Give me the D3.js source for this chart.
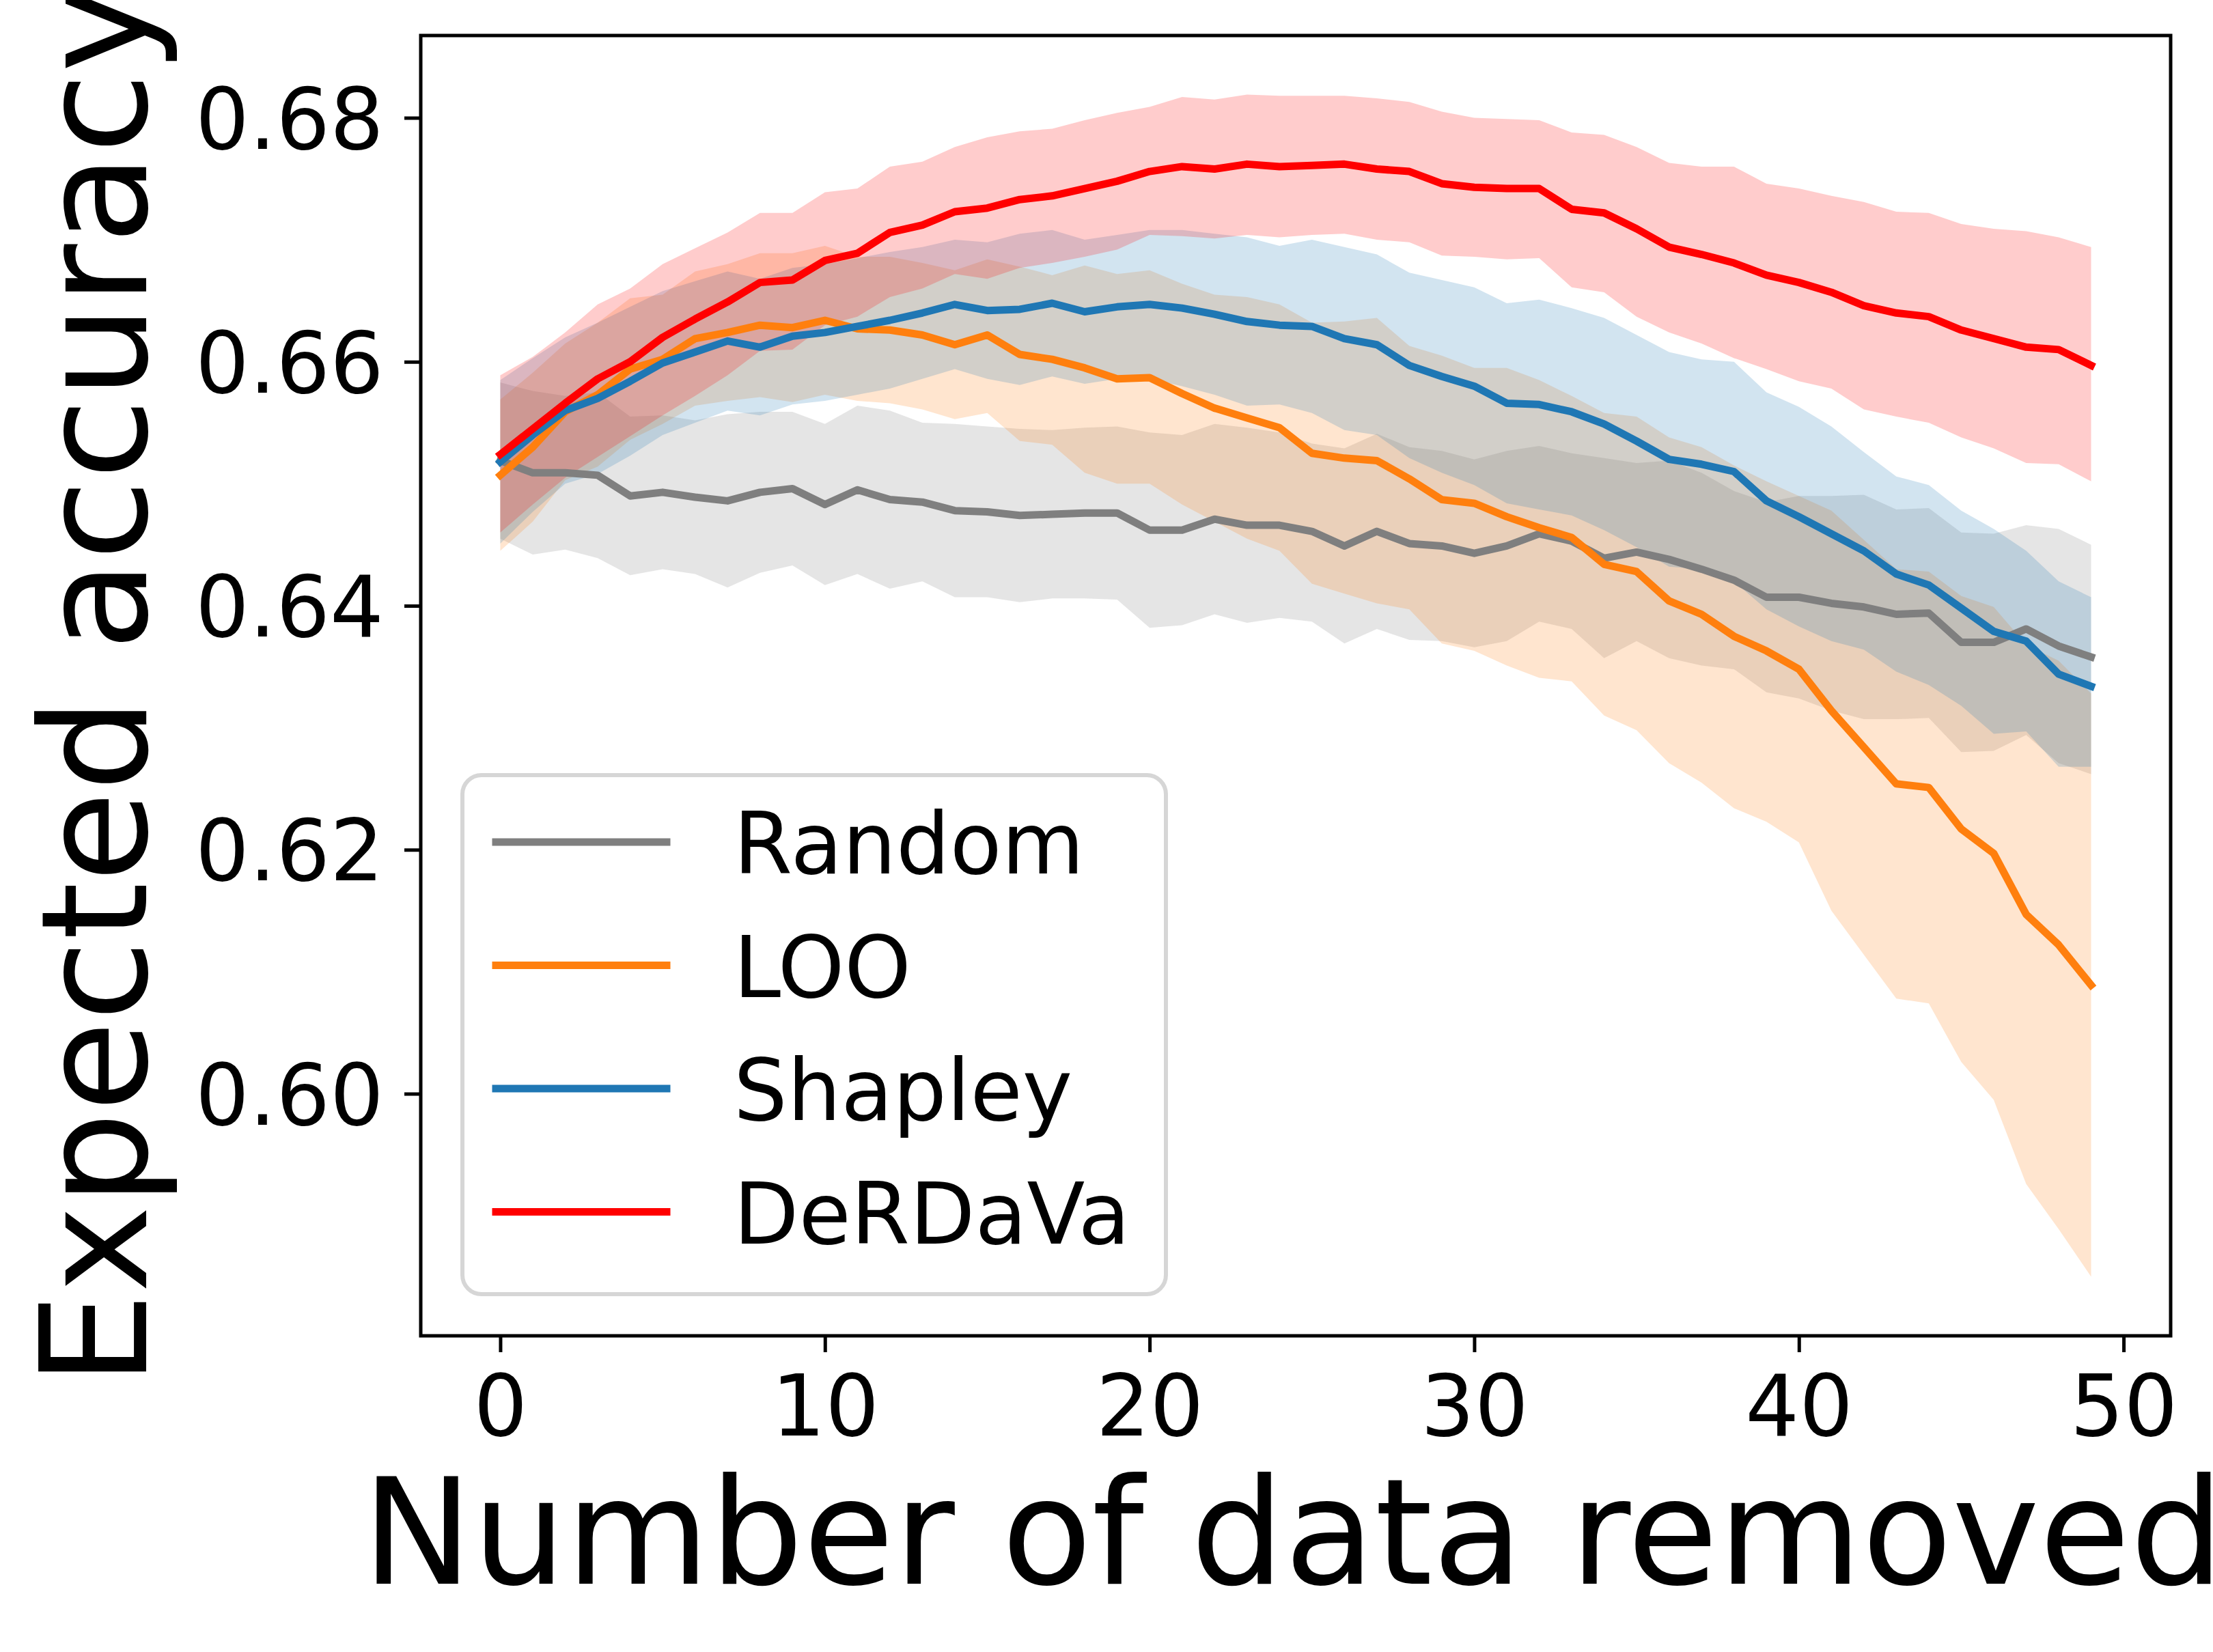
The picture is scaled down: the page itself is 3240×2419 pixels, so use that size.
<!DOCTYPE html>
<html>
<head>
<meta charset="utf-8">
<script src="https://cdn.jsdelivr.net/npm/d3@7.9.0/dist/d3.min.js"></script>
<style>
  html, body { margin: 0; padding: 0; background: #fff; }
  svg { display: block; font-family: 'DejaVu Sans', sans-serif; }
</style>
</head>
<body>
<svg id="chart"></svg>
<script>
// values, one entry per number of removed points (0..49)
const randomMean = [0.6519, 0.6509, 0.6509, 0.6507, 0.6490, 0.6493, 0.6489, 0.6486, 0.6493, 0.6496, 0.6483, 0.6495, 0.6487, 0.6485, 0.6478, 0.6477, 0.6474, 0.6475, 0.6476, 0.6476, 0.6462, 0.6462, 0.6471, 0.6466, 0.6466, 0.6461, 0.6449, 0.6461, 0.6451, 0.6449, 0.6443, 0.6449, 0.6459, 0.6453, 0.6439, 0.6444, 0.6438, 0.6430, 0.6421, 0.6407, 0.6407, 0.6402, 0.6399, 0.6393, 0.6394, 0.6370, 0.6370, 0.6381, 0.6367, 0.6358];
const randomUpper = [0.6583, 0.6576, 0.6572, 0.6575, 0.6555, 0.6556, 0.6552, 0.6557, 0.6559, 0.6559, 0.6549, 0.6564, 0.6560, 0.6550, 0.6549, 0.6547, 0.6545, 0.6544, 0.6546, 0.6547, 0.6542, 0.6540, 0.6549, 0.6546, 0.6542, 0.6533, 0.6529, 0.6541, 0.6530, 0.6527, 0.6520, 0.6527, 0.6531, 0.6525, 0.6521, 0.6517, 0.6519, 0.6509, 0.6494, 0.6485, 0.6490, 0.6490, 0.6491, 0.6479, 0.6480, 0.6460, 0.6459, 0.6466, 0.6463, 0.6450];
const randomLower = [0.6455, 0.6442, 0.6446, 0.6439, 0.6425, 0.6430, 0.6426, 0.6415, 0.6427, 0.6433, 0.6417, 0.6426, 0.6414, 0.6420, 0.6407, 0.6407, 0.6403, 0.6406, 0.6406, 0.6405, 0.6382, 0.6384, 0.6393, 0.6386, 0.6390, 0.6387, 0.6369, 0.6381, 0.6372, 0.6371, 0.6366, 0.6371, 0.6387, 0.6381, 0.6357, 0.6371, 0.6357, 0.6351, 0.6348, 0.6329, 0.6324, 0.6314, 0.6307, 0.6307, 0.6308, 0.6280, 0.6281, 0.6294, 0.6271, 0.6262];

const looMean = [0.6507, 0.6530, 0.6559, 0.6573, 0.6594, 0.6602, 0.6619, 0.6624, 0.6630, 0.6628, 0.6634, 0.6627, 0.6626, 0.6622, 0.6614, 0.6622, 0.6606, 0.6602, 0.6595, 0.6586, 0.6587, 0.6574, 0.6562, 0.6554, 0.6546, 0.6525, 0.6521, 0.6519, 0.6504, 0.6487, 0.6484, 0.6473, 0.6464, 0.6456, 0.6434, 0.6428, 0.6404, 0.6393, 0.6375, 0.6363, 0.6348, 0.6314, 0.6284, 0.6254, 0.6251, 0.6217, 0.6197, 0.6147, 0.6122, 0.6089];
const looUpper = [0.6569, 0.6591, 0.6615, 0.6632, 0.6652, 0.6655, 0.6674, 0.6680, 0.6689, 0.6689, 0.6695, 0.6686, 0.6686, 0.6681, 0.6675, 0.6684, 0.6678, 0.6671, 0.6679, 0.6672, 0.6675, 0.6664, 0.6655, 0.6653, 0.6647, 0.6632, 0.6633, 0.6636, 0.6613, 0.6605, 0.6595, 0.6595, 0.6585, 0.6572, 0.6558, 0.6555, 0.6538, 0.6530, 0.6515, 0.6502, 0.6490, 0.6478, 0.6454, 0.6430, 0.6428, 0.6408, 0.6399, 0.6368, 0.6355, 0.6328];
const looLower = [0.6445, 0.6469, 0.6503, 0.6514, 0.6536, 0.6549, 0.6564, 0.6568, 0.6571, 0.6567, 0.6573, 0.6568, 0.6566, 0.6561, 0.6553, 0.6558, 0.6535, 0.6532, 0.6509, 0.6500, 0.6500, 0.6483, 0.6469, 0.6455, 0.6445, 0.6418, 0.6410, 0.6402, 0.6397, 0.6369, 0.6363, 0.6351, 0.6341, 0.6338, 0.6310, 0.6298, 0.6271, 0.6255, 0.6234, 0.6223, 0.6206, 0.6150, 0.6114, 0.6078, 0.6074, 0.6026, 0.5995, 0.5926, 0.5889, 0.5850];

const shapleyMean = [0.6518, 0.6540, 0.6560, 0.6570, 0.6584, 0.6599, 0.6608, 0.6617, 0.6612, 0.6621, 0.6624, 0.6629, 0.6634, 0.6640, 0.6647, 0.6642, 0.6643, 0.6648, 0.6641, 0.6645, 0.6647, 0.6644, 0.6639, 0.6633, 0.6630, 0.6629, 0.6619, 0.6614, 0.6597, 0.6588, 0.6580, 0.6566, 0.6565, 0.6559, 0.6549, 0.6535, 0.6520, 0.6516, 0.6510, 0.6486, 0.6473, 0.6459, 0.6445, 0.6426, 0.6417, 0.6398, 0.6379, 0.6371, 0.6344, 0.6334];
const shapleyUpper = [0.6585, 0.6603, 0.6620, 0.6632, 0.6645, 0.6658, 0.6666, 0.6674, 0.6668, 0.6677, 0.6680, 0.6685, 0.6690, 0.6694, 0.6700, 0.6698, 0.6705, 0.6708, 0.6700, 0.6704, 0.6708, 0.6708, 0.6705, 0.6702, 0.6695, 0.6700, 0.6694, 0.6688, 0.6673, 0.6667, 0.6661, 0.6648, 0.6651, 0.6644, 0.6636, 0.6622, 0.6608, 0.6602, 0.6600, 0.6575, 0.6563, 0.6547, 0.6526, 0.6506, 0.6499, 0.6478, 0.6463, 0.6445, 0.6420, 0.6407];
const shapleyLower = [0.6451, 0.6477, 0.6500, 0.6508, 0.6523, 0.6540, 0.6550, 0.6560, 0.6556, 0.6565, 0.6568, 0.6573, 0.6578, 0.6586, 0.6594, 0.6586, 0.6581, 0.6588, 0.6582, 0.6586, 0.6586, 0.6580, 0.6573, 0.6564, 0.6565, 0.6558, 0.6544, 0.6540, 0.6521, 0.6509, 0.6499, 0.6484, 0.6479, 0.6474, 0.6462, 0.6448, 0.6432, 0.6430, 0.6420, 0.6397, 0.6383, 0.6371, 0.6364, 0.6346, 0.6335, 0.6318, 0.6295, 0.6297, 0.6268, 0.6268];

const derdavaMean = [0.6524, 0.6545, 0.6566, 0.6586, 0.6600, 0.6620, 0.6635, 0.6649, 0.6665, 0.6667, 0.6683, 0.6689, 0.6706, 0.6712, 0.6723, 0.6726, 0.6733, 0.6736, 0.6742, 0.6748, 0.6756, 0.6760, 0.6758, 0.6762, 0.6760, 0.6761, 0.6762, 0.6758, 0.6756, 0.6746, 0.6743, 0.6742, 0.6742, 0.6725, 0.6722, 0.6709, 0.6694, 0.6688, 0.6681, 0.6671, 0.6665, 0.6657, 0.6646, 0.6640, 0.6637, 0.6626, 0.6619, 0.6612, 0.6610, 0.6597];
const derdavaUpper = [0.6589, 0.6604, 0.6624, 0.6647, 0.6660, 0.6680, 0.6693, 0.6706, 0.6722, 0.6722, 0.6739, 0.6742, 0.6760, 0.6764, 0.6776, 0.6784, 0.6789, 0.6791, 0.6798, 0.6804, 0.6809, 0.6817, 0.6815, 0.6819, 0.6818, 0.6818, 0.6818, 0.6816, 0.6813, 0.6805, 0.6800, 0.6799, 0.6798, 0.6788, 0.6786, 0.6776, 0.6763, 0.6760, 0.6760, 0.6746, 0.6742, 0.6736, 0.6731, 0.6723, 0.6722, 0.6713, 0.6709, 0.6707, 0.6702, 0.6694];
const derdavaLower = [0.6460, 0.6483, 0.6505, 0.6522, 0.6539, 0.6556, 0.6572, 0.6589, 0.6609, 0.6610, 0.6630, 0.6637, 0.6653, 0.6660, 0.6672, 0.6668, 0.6677, 0.6681, 0.6686, 0.6692, 0.6704, 0.6703, 0.6701, 0.6704, 0.6702, 0.6704, 0.6705, 0.6700, 0.6698, 0.6687, 0.6686, 0.6684, 0.6685, 0.6661, 0.6657, 0.6637, 0.6624, 0.6615, 0.6603, 0.6594, 0.6584, 0.6578, 0.6561, 0.6555, 0.6550, 0.6538, 0.6529, 0.6517, 0.6516, 0.6502];

const methods = ['Random', 'LOO', 'Shapley', 'DeRDaVa'];
const colors = ['#7f7f7f', '#ff7f0e', '#1f77b4', '#ff0000'];
const xTicks = [0, 10, 20, 30, 40, 50];
const yTicks = [0.60, 0.62, 0.64, 0.66, 0.68];

const series = [
  { name: methods[0], color: colors[0], mean: randomMean, lo: randomLower, hi: randomUpper },
  { name: methods[1], color: colors[1], mean: looMean, lo: looLower, hi: looUpper },
  { name: methods[2], color: colors[2], mean: shapleyMean, lo: shapleyLower, hi: shapleyUpper },
  { name: methods[3], color: colors[3], mean: derdavaMean, lo: derdavaLower, hi: derdavaUpper },
];

const width = 3240;
const height = 2419;
const plot = { left: 616, right: 3178, top: 52, bottom: 1956 };
const tickFont = 124;
const labelFont = 216;
const lineWidth = 11;

const svg = d3.select('#chart')
  .attr('width', width)
  .attr('height', height)
  .attr('viewBox', `0 0 ${width} ${height}`);

svg.append('rect').attr('width', width).attr('height', height).attr('fill', '#fff');

// matplotlib-style 5% margins around the data
const n = randomMean.length;
const xScale = d3.scaleLinear()
  .domain([0 - 0.05 * (n - 1), (n - 1) + 0.05 * (n - 1)])
  .range([plot.left, plot.right]);

const yMin = d3.min(series, (s) => d3.min(s.lo));
const yMax = d3.max(series, (s) => d3.max(s.hi));
const yPad = (yMax - yMin) * 0.05;
const yScale = d3.scaleLinear()
  .domain([yMin - yPad, yMax + yPad])
  .range([plot.bottom, plot.top]);

svg.append('clipPath').attr('id', 'clip')
  .append('rect')
  .attr('x', plot.left).attr('y', plot.top)
  .attr('width', plot.right - plot.left)
  .attr('height', plot.bottom - plot.top);

const body = svg.append('g').attr('clip-path', 'url(#clip)');

const area = (s) => d3.area()
  .x((d, i) => xScale(i))
  .y0((d, i) => yScale(s.lo[i]))
  .y1((d, i) => yScale(s.hi[i]));

const line = (s) => d3.line()
  .x((d, i) => xScale(i))
  .y((d) => yScale(d));

// bands first, then the mean lines on top
body.selectAll('path.band')
  .data(series)
  .join('path')
  .attr('class', 'band')
  .attr('d', (s) => area(s)(s.mean))
  .attr('fill', (s) => s.color)
  .attr('fill-opacity', 0.2);

body.selectAll('path.mean')
  .data(series)
  .join('path')
  .attr('class', 'mean')
  .attr('d', (s) => line(s)(s.mean))
  .attr('fill', 'none')
  .attr('stroke', (s) => s.color)
  .attr('stroke-width', lineWidth)
  .attr('stroke-linejoin', 'round')
  .attr('stroke-linecap', 'square');

// axes
const xAxis = d3.axisBottom(xScale).tickValues(xTicks).tickSize(24).tickPadding(34)
  .tickFormat(d3.format('d'));
const yAxis = d3.axisLeft(yScale).tickValues(yTicks).tickSize(24).tickPadding(30)
  .tickFormat(d3.format('.2f'));

const gx = svg.append('g').attr('transform', `translate(0,${plot.bottom})`).call(xAxis);
const gy = svg.append('g').attr('transform', `translate(${plot.left},0)`).call(yAxis);

[gx, gy].forEach((g) => {
  g.select('.domain').remove();
  g.selectAll('.tick line').attr('stroke', '#000').attr('stroke-width', 5);
  g.selectAll('.tick text')
    .attr('fill', '#000')
    .style('font-family', "'DejaVu Sans', sans-serif")
    .style('font-size', tickFont + 'px');
});
gy.selectAll('.tick text').attr('dy', '0.36em');

svg.append('rect')
  .attr('x', plot.left).attr('y', plot.top)
  .attr('width', plot.right - plot.left)
  .attr('height', plot.bottom - plot.top)
  .attr('fill', 'none')
  .attr('stroke', '#000')
  .attr('stroke-width', 5);

// axis labels
svg.append('text')
  .attr('x', (plot.left + plot.right) / 2 - 4)
  .attr('y', 2319)
  .attr('text-anchor', 'middle')
  .style('font-size', labelFont + 'px')
  .text('Number of data removed');

svg.append('text')
  .attr('transform', `translate(214,${(plot.top + plot.bottom) / 2}) rotate(-90)`)
  .attr('text-anchor', 'middle')
  .style('font-size', labelFont + 'px')
  .text('Expected accuracy');

// legend
const legend = svg.append('g');
legend.append('rect')
  .attr('x', 677).attr('y', 1135)
  .attr('width', 1030).attr('height', 760)
  .attr('rx', 28)
  .attr('fill', '#fff').attr('fill-opacity', 0.8)
  .attr('stroke', '#d6d6d6').attr('stroke-width', 6);

const rows = legend.selectAll('g.row')
  .data(series)
  .join('g')
  .attr('class', 'row')
  .attr('transform', (d, i) => `translate(0,${1233 + i * 180.5})`);

rows.append('line')
  .attr('x1', 726).attr('x2', 976)
  .attr('stroke', (d) => d.color)
  .attr('stroke-width', lineWidth)
  .attr('stroke-linecap', 'square');

rows.append('text')
  .attr('x', 1074).attr('y', 46)
  .style('font-size', tickFont + 'px')
  .text((d) => d.name);
</script>
</body>
</html>
